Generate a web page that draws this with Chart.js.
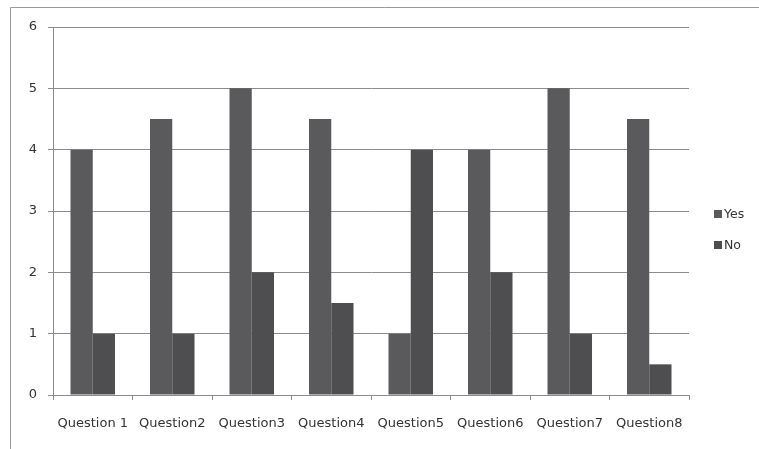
<!DOCTYPE html>
<html>
<head>
<meta charset="utf-8">
<script src="https://cdn.jsdelivr.net/npm/chart.js@4"></script>
<style>
  html, body { margin: 0; padding: 0; background: #fff; }
  #wrap { width: 759px; height: 449px; position: relative; }
</style>
</head>
<body>
<div id="wrap"><canvas id="c"></canvas></div>
<script>
// Survey answers per question
const categories = ['Question 1', 'Question2', 'Question3', 'Question4', 'Question5', 'Question6', 'Question7', 'Question8'];
const yesValues = [4, 4.5, 5, 4.5, 1, 4, 5, 4.5];
const noValues  = [1, 1, 2, 1.5, 4, 2, 1, 0.5];
const yTicks = [0, 1, 2, 3, 4, 5, 6];

const FONT = '"DejaVu Sans", sans-serif';
const TEXT = '#333333';
const GRID = '#8c8c8c';

// Frame lines and the side legend
const decor = {
  id: 'decor',
  beforeDraw(chart) {
    const ctx = chart.ctx;
    ctx.save();
    ctx.strokeStyle = '#999';
    ctx.lineWidth = 1;
    ctx.beginPath();
    ctx.moveTo(10.5, 449);
    ctx.lineTo(10.5, 7.5);
    ctx.lineTo(759, 7.5);
    ctx.stroke();
    ctx.restore();
  },
  afterDraw(chart) {
    const ctx = chart.ctx;
    ctx.save();
    ctx.font = '12.5px ' + FONT;
    ctx.textBaseline = 'middle';
    const x = 718, y0 = 214, step = 31;
    chart.data.datasets.forEach((ds, i) => {
      const y = y0 + i * step;
      ctx.fillStyle = ds.backgroundColor;
      ctx.fillRect(x - 4, y - 4, 8, 8);
      ctx.fillStyle = TEXT;
      ctx.fillText(ds.label, x + 6, y + 1);
    });
    ctx.restore();
  }
};

new Chart(document.getElementById('c'), {
  type: 'bar',
  data: {
    labels: categories,
    datasets: [
      { label: 'Yes', data: yesValues, backgroundColor: '#5a5a5c' },
      { label: 'No',  data: noValues,  backgroundColor: '#4e4e50' }
    ]
  },
  options: {
    responsive: true,
    maintainAspectRatio: false,
    animation: false,
    layout: { padding: { top: 27, right: 70, left: 0, bottom: 0 } },
    datasets: { bar: { categoryPercentage: 0.56, barPercentage: 1.0 } },
    plugins: { legend: { display: false }, tooltip: { enabled: false } },
    scales: {
      x: {
        grid: { offset: true, drawOnChartArea: false, drawTicks: true, tickLength: 5, color: GRID },
        border: { color: GRID },
        ticks: { color: TEXT, font: { family: FONT, size: 13 }, padding: 16, maxRotation: 0, autoSkip: false },
        afterFit(s) { s.height = 54; }
      },
      y: {
        min: 0, max: 6,
        afterBuildTicks(s) { s.ticks = yTicks.map(v => ({ value: v })); },
        grid: { color: GRID, tickLength: 5 },
        border: { color: GRID },
        ticks: { color: TEXT, font: { family: FONT, size: 13 }, padding: 11 },
        afterFit(s) { s.width = 53; }
      }
    }
  },
  plugins: [decor]
});
</script>
</body>
</html>
